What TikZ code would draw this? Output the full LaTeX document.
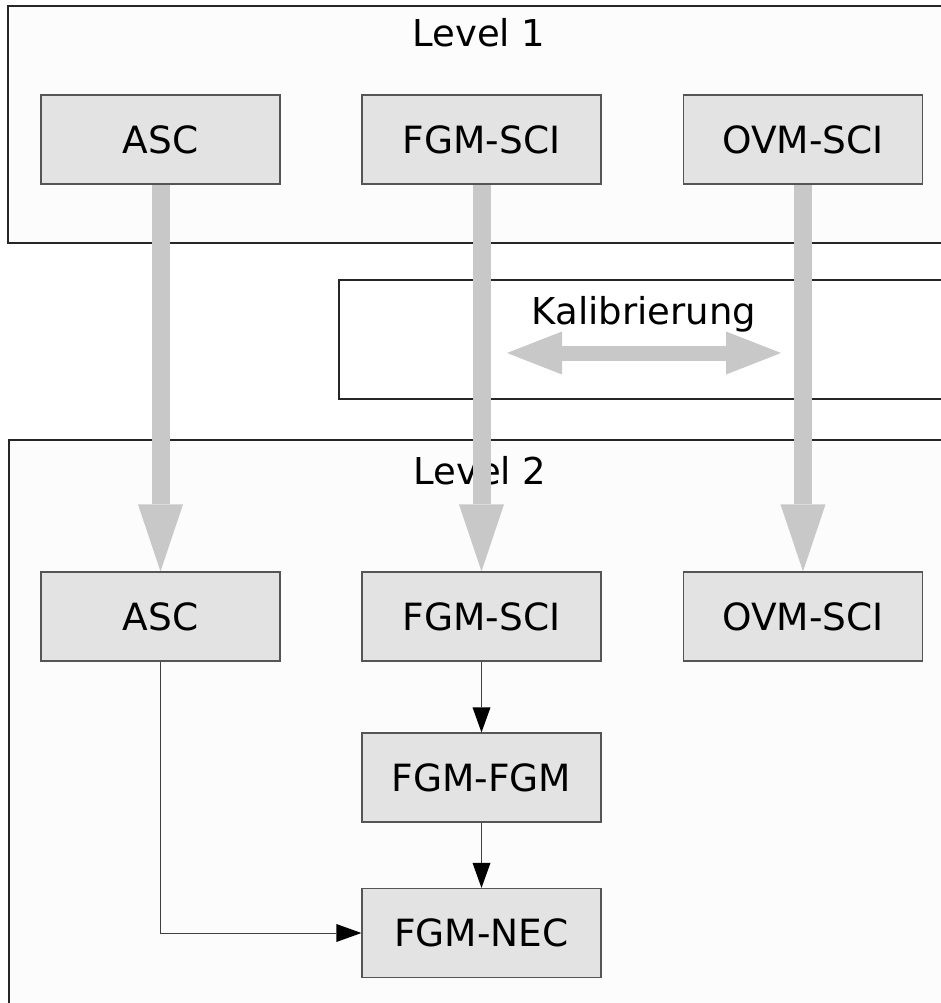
\documentclass[tikz,border=0pt]{standalone}
\usepackage{fontspec}
\setmainfont{DejaVu Sans}
\usetikzlibrary{arrows.meta}
\definecolor{boxfill}{HTML}{E3E3E3}
\definecolor{bigarrow}{HTML}{C8C8C8}
\definecolor{levelfill}{HTML}{FCFCFC}
\definecolor{edgegray}{HTML}{555555}
\begin{document}
\begin{tikzpicture}[x=1pt,y=-1pt,
 unit/.style={draw=edgegray, fill=boxfill, line width=1.2pt, minimum width=239pt, minimum height=89pt, inner sep=0pt, font=\fontsize{37.5}{40}\selectfont},
 levelbox/.style={draw=black!85, fill=levelfill, line width=1.3pt},
 caption/.style={font=\fontsize{37}{40}\selectfont, anchor=base, inner sep=0pt},
 flow/.style={draw=bigarrow, line width=18pt, -{Triangle[width=45pt,length=67pt,line width=0pt]}},
 link/.style={draw=black!75, line width=1pt, -{Triangle[width=18pt,length=25pt,line width=0pt,color=black]}}]
\useasboundingbox (0,0) rectangle (941,1003);
\clip (0,0) rectangle (941,1003);
\fill[white] (0,0) rectangle (941,1003);

% frames
\draw[levelbox] (8,6) rectangle (960,243);
\draw[levelbox, fill=white] (339,280) rectangle (960,399);
\draw[levelbox] (9,440) rectangle (960,1030);

% captions
\node[caption] (lev1) at (479,47) {Level 1};
\node[caption] (kal) at (644,324) {Kalibrierung};
\node[caption] (lev2) at (480,484) {Level 2};

% level 1 nodes
\node[unit] (l1asc) at (160.5,139.5) {ASC};
\node[unit] (l1fgm) at (481.5,139.5) {FGM-SCI};
\node[unit] (l1ovm) at (803,139.5) {OVM-SCI};

% level 2 nodes
\node[unit] (l2asc) at (160.5,616.5) {ASC};
\node[unit] (l2fgm) at (481.5,616.5) {FGM-SCI};
\node[unit] (l2ovm) at (803,616.5) {OVM-SCI};
\node[unit] (fgmfgm) at (481.5,777.5) {FGM-FGM};
\node[unit] (nec) at (481.5,933) {FGM-NEC};

% big flows
\draw[flow] (l1asc.south) -- (l2asc.north);
\draw[flow] (l1fgm.south) -- (l2fgm.north);
\draw[flow] (l1ovm.south) -- (l2ovm.north);

% calibration double arrow
\coordinate (calL) at (507,353);
\coordinate (calR) at (781,353);
\draw[draw=bigarrow, line width=15pt, {Triangle[width=43pt,length=55pt,line width=0pt]}-{Triangle[width=43pt,length=55pt,line width=0pt]}] (calL) -- (calR);

% redraw nodes above flows
\node[unit] at (l1asc) {ASC};
\node[unit] at (l1fgm) {FGM-SCI};
\node[unit] at (l1ovm) {OVM-SCI};
\node[unit] at (l2asc) {ASC};
\node[unit] at (l2fgm) {FGM-SCI};
\node[unit] at (l2ovm) {OVM-SCI};

% small links
\draw[link] (l2fgm.south) -- (fgmfgm.north);
\draw[link] (fgmfgm.south) -- (nec.north);
\draw[link] (l2asc.south) |- (nec.west);
\end{tikzpicture}
\end{document}
